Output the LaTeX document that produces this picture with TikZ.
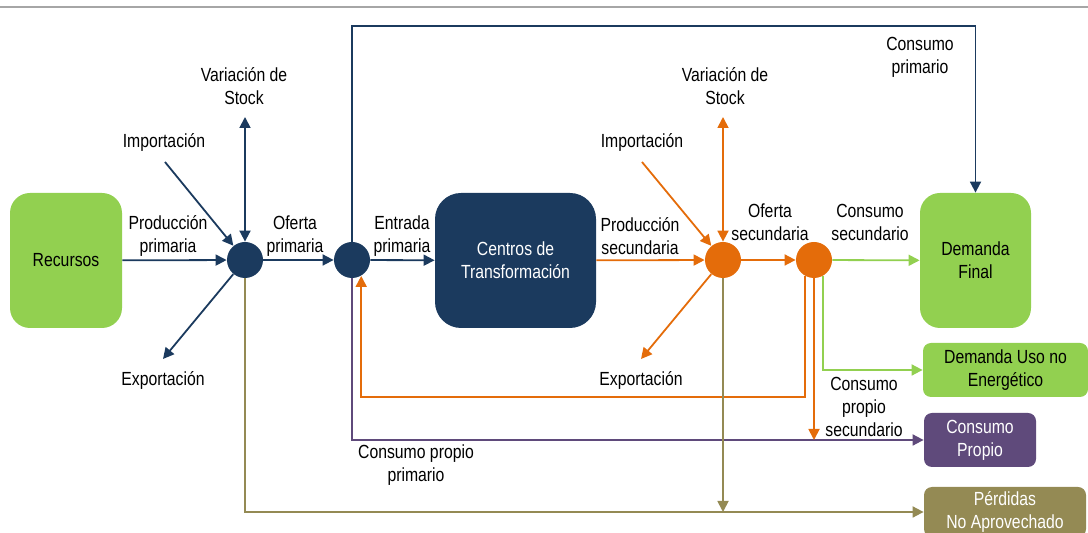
\documentclass[tikz,border=0pt]{standalone}
\usepackage{fontspec}
\setmainfont{Liberation Sans}[FakeStretch=0.83]
\usepackage{tikz}
\usetikzlibrary{arrows.meta,positioning}
\definecolor{navy}{HTML}{1B3A5E}
\definecolor{naranja}{HTML}{E46C0A}
\definecolor{verde}{HTML}{92D050}
\definecolor{morado}{HTML}{5F4A7B}
\definecolor{oliva}{HTML}{948A54}

\begin{document}
\begin{tikzpicture}[x=0.5pt,y=-0.5pt,
	font=\fontsize{9.5}{11.5}\selectfont,
	hub/.style = {circle, inner sep=0pt, minimum size=18pt},
	box/.style = {rounded corners=10pt, inner sep=2pt, align=center, minimum height=67.5pt},
	tag/.style = {rounded corners=4pt, inner sep=1pt, align=center, minimum height=27pt},
	lbl/.style = {align=center, inner sep=1pt},
	flow/.style = {line width=0.9pt, -{Triangle[length=5.5pt,width=5.5pt]}},
	both/.style = {line width=0.9pt, {Triangle[length=5.5pt,width=5.5pt]}-{Triangle[length=5.5pt,width=5.5pt]}}]
	\useasboundingbox (0,0) rectangle (1088,533);
	\draw[gray!70, line width=0.6pt] (0,7) -- (1088,7);
	
	\node[box, fill=verde, minimum width=56pt] (rec) at (66,260.5) {Recursos};
	\node[hub, fill=navy] (pA) at (245,260) {};
	\node[hub, fill=navy] (pB) at (352,260) {};
	\node[box, fill=navy, text=white, minimum width=80.5pt, rounded corners=13pt] (ctr) at (515.5,260.5) {Centros de\\Transformación};
	\node[hub, fill=naranja] (sC) at (723,260) {};
	\node[hub, fill=naranja] (sD) at (814,260) {};
	\node[box, fill=verde, minimum width=55.5pt] (dfin) at (975.5,260.5) {Demanda\\Final};
	\node[tag, fill=verde, minimum width=82.5pt] (dune) at (1005.5,370) {Demanda Uso no\\Energético};
	\node[tag, fill=morado, text=white, minimum width=56pt] (cpro) at (980,440) {Consumo\\Propio};
	\node[tag, fill=oliva, text=white, minimum width=81pt, minimum height=25pt] (perd) at (1005,512) {Pérdidas\\No Aprovechado};
	
	\node[lbl] (vs1) at (244,86) {Variación de\\Stock};
	\node[lbl] (im1) at (164,142) {Importación};
	\node[lbl] (pp) at (168,236) {Producción\\primaria};
	\node[lbl] (op) at (295,236) {Oferta\\primaria};
	\node[lbl] (ex1) at (163,380) {Exportación};
	\node[lbl] (ep) at (402,236) {Entrada\\primaria};
	\node[lbl] (ps) at (640,236) {Producción\\secundaria};
	\node[lbl] (vs2) at (725,86) {Variación de\\Stock};
	\node[lbl] (im2) at (642,142) {Importación};
	\node[lbl] (os) at (770,222) {Oferta\\secundaria};
	\node[lbl] (cs) at (870,222) {Consumo\\secundario};
	\node[lbl] (cp) at (920,57) {Consumo\\primario};
	\node[lbl] (ex2) at (641,380) {Exportación};
	\node[lbl] (cpp) at (416,465) {Consumo propio\\primario};
	\node[lbl] (cps) at (864,407) {Consumo\\propio\\secundario};
	
	\coordinate (im1e) at (165,162);
	\coordinate (vs1e) at (245,117);
	\coordinate (ex1e) at (163,359);
	\coordinate (im2e) at (642,162);
	\coordinate (vs2e) at (723,117);
	\coordinate (ex2e) at (641,359);
	\coordinate (top) at (0,26);
	\coordinate (loop) at (0,397);
	
	\draw[flow, navy] (rec) -- (pA);
	\draw[flow, navy] (im1e) -- (pA);
	\draw[both, navy] (vs1e) -- (pA);
	\draw[flow, navy] (pA) -- (ex1e);
	\draw[flow, navy] (pA) -- (pB);
	\draw[flow, navy] (pB) -- (ctr);
	\draw[flow, navy] (pB.north) -- (pB.north |- top) -| (dfin.north);
	\draw[flow, oliva] (pA.south) |- (perd.west);
	\draw[flow, morado] (pB.south) |- (cpro.west);
	\draw[flow, naranja] (ctr) -- (sC);
	\draw[flow, naranja] (im2e) -- (sC);
	\draw[both, naranja] (vs2e) -- (sC);
	\draw[flow, naranja] (sC) -- (ex2e);
	\draw[flow, naranja] (sC) -- (sD);
	\draw[flow, naranja] (sD.240) -- (sD.240 |- loop) -| (pB.300);
	\draw[flow, naranja] (sD.south) -- (sD.south |- cpro.west);
	\draw[flow, verde] (sD) -- (dfin);
	\draw[flow, verde] (sD.300) |- (dune.west);
	\draw[flow, oliva] (sC.south) -- (sC.south |- perd.west);
\end{tikzpicture}
\end{document}
